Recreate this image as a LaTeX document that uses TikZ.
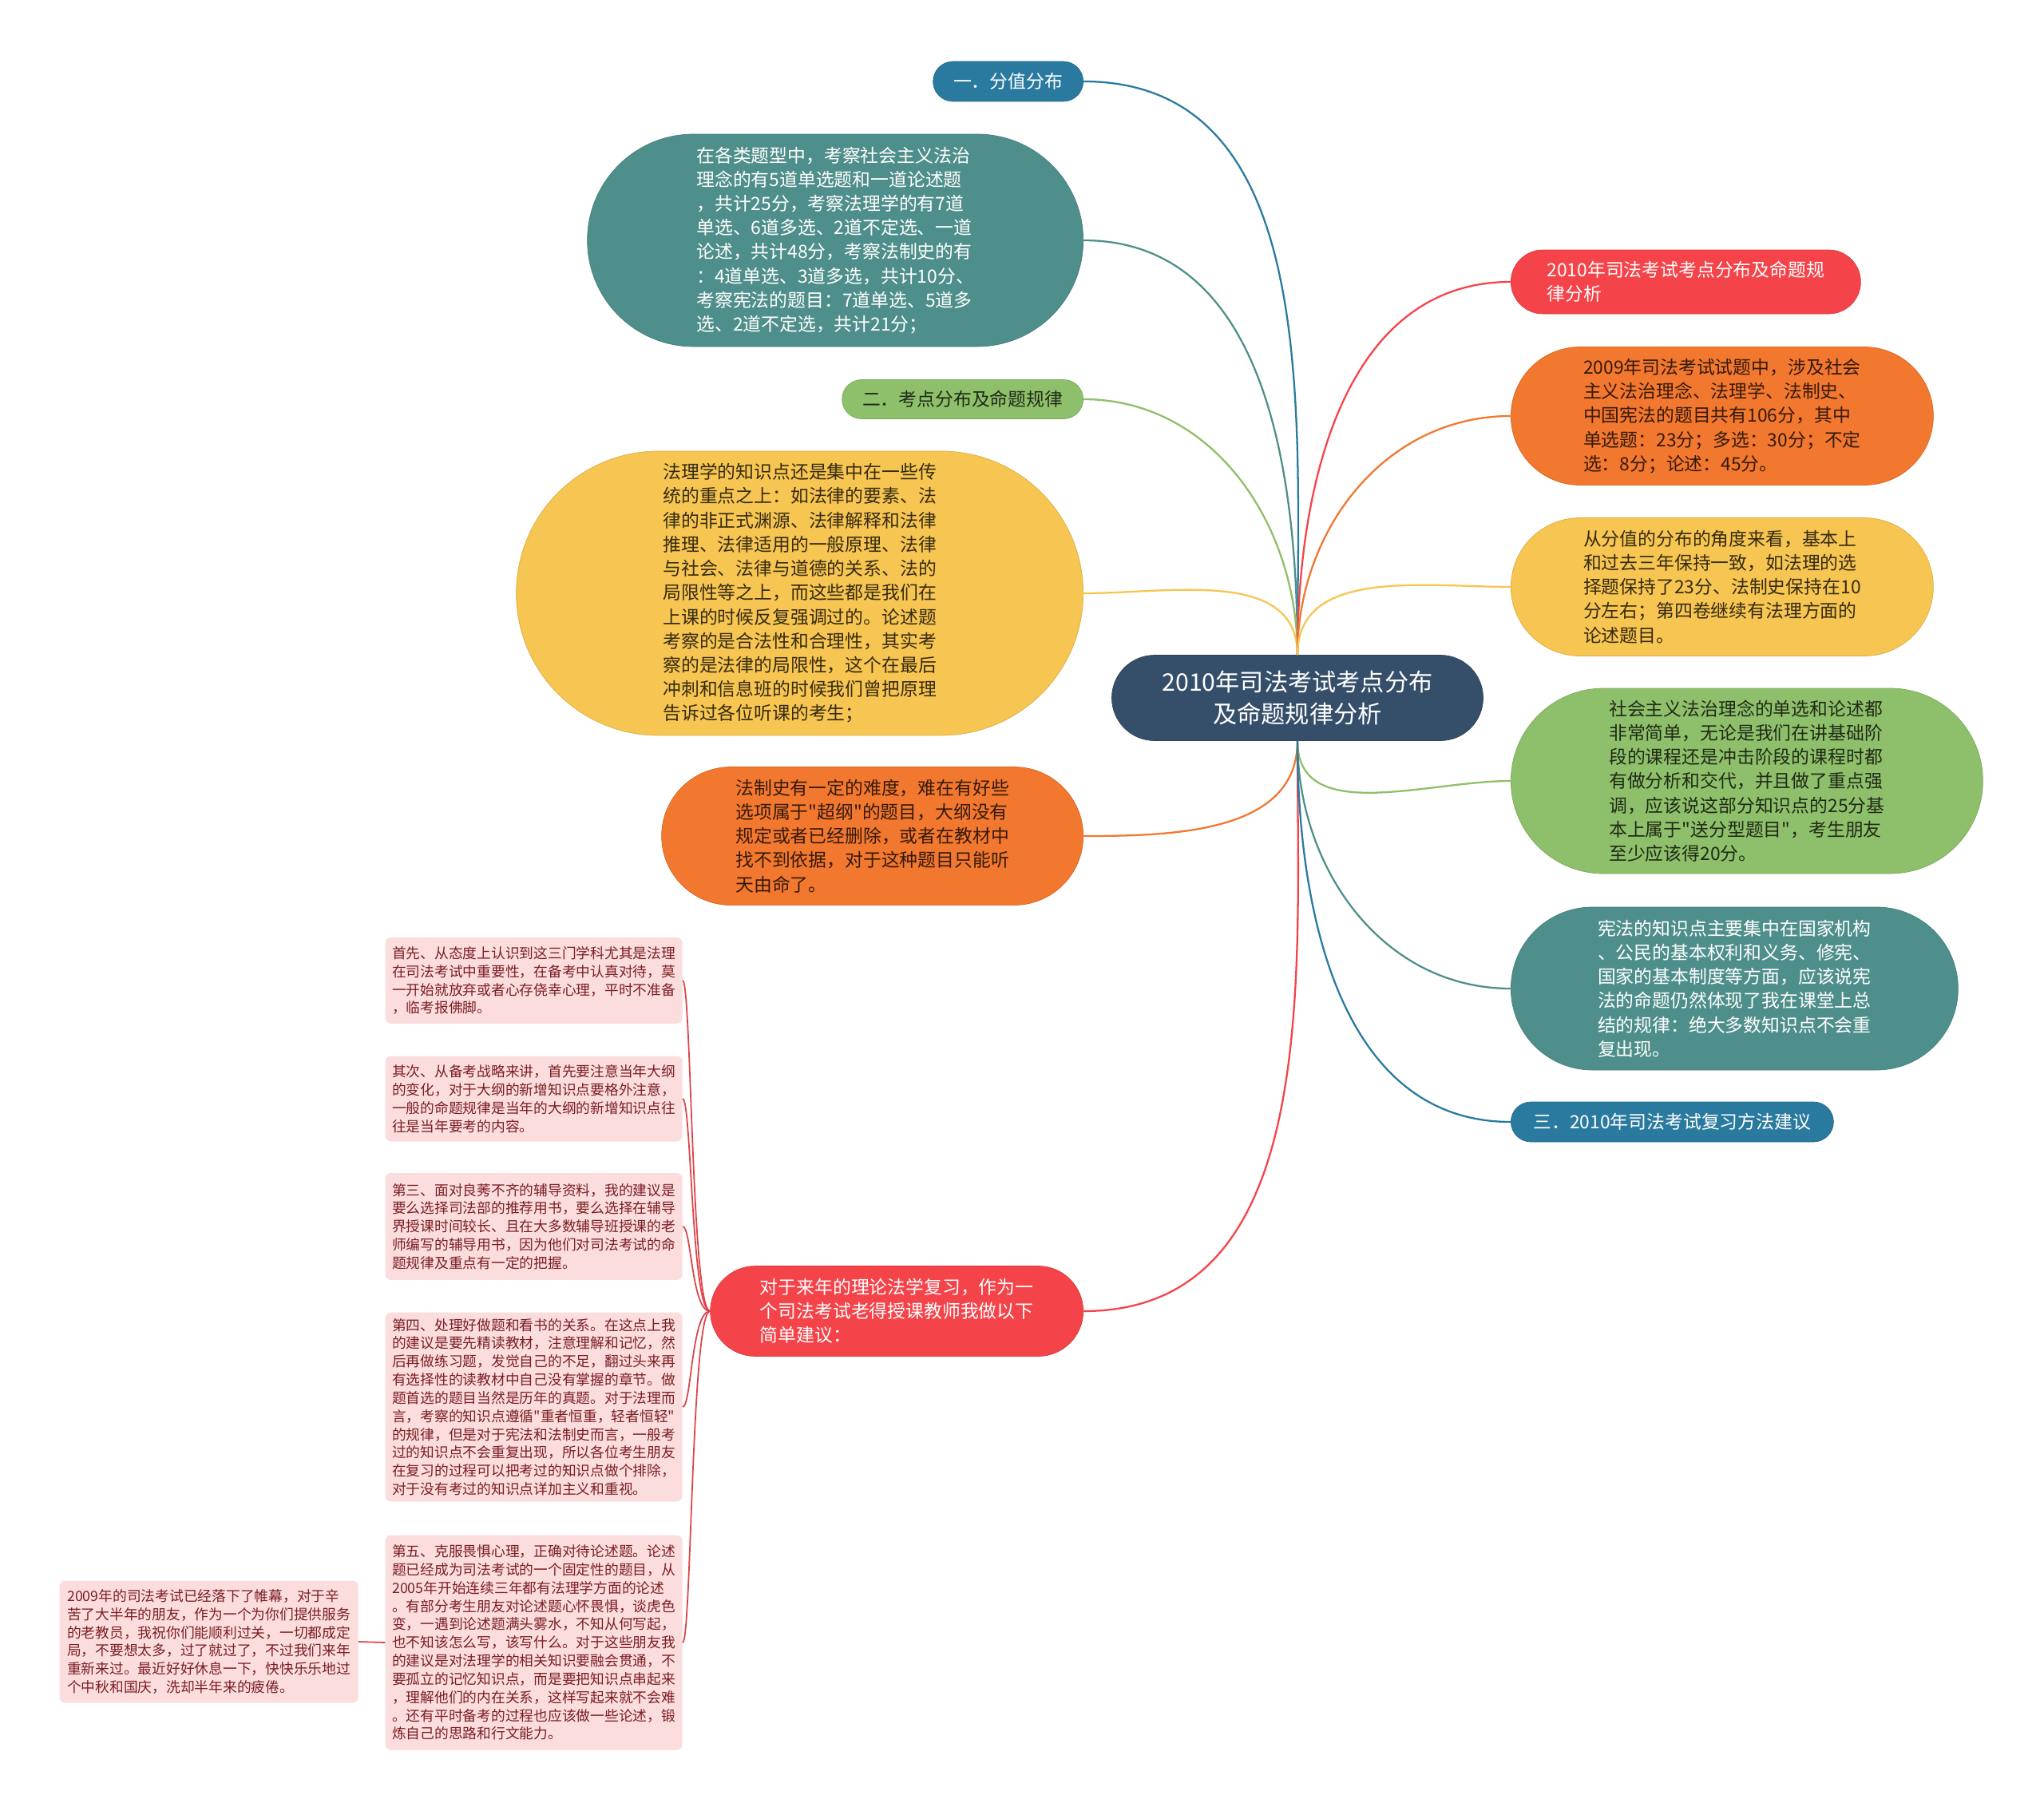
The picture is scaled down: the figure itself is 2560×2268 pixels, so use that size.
\documentclass[tikz,border=0pt]{standalone}
\usepackage{fontspec}
\setmainfont{Noto Sans CJK SC}[Ligatures=TeXOff]
\usetikzlibrary{shapes.misc}
\definecolor{rootblue}{RGB}{53,79,107}
\definecolor{mapblue}{RGB}{42,122,160}
\definecolor{mapteal}{RGB}{79,143,139}
\definecolor{mapgreen}{RGB}{142,191,106}
\definecolor{mapyellow}{RGB}{247,197,81}
\definecolor{maporange}{RGB}{242,119,47}
\definecolor{mapred}{RGB}{245,67,74}
\definecolor{notepink}{RGB}{252,221,222}
\definecolor{notetext}{RGB}{122,30,34}
\definecolor{noteline}{RGB}{222,66,72}

\begin{document}
\begin{tikzpicture}[
    x=0.02cm, y=-0.02cm,
    wh/.style 2 args={minimum width=#1*0.02cm,minimum height=#2*0.02cm},
    root/.style={rounded rectangle,fill=rootblue,draw=rootblue!85!black,line width=0.4pt,
      text=white,inner sep=0pt,font=\fontsize{17.2pt}{23.1pt}\selectfont,align=center},
    topic/.style={rounded rectangle,fill=#1,draw=#1!88!black,line width=0.4pt,inner sep=0pt,
      font=\fontsize{13pt}{17.2pt}\selectfont,align=left},
    light/.style={topic=#1,text=white},
    dark/.style={topic=#1,text=#1!22!black},
    note/.style={rectangle,rounded corners=4pt,fill=notepink,text=notetext,inner sep=0pt,
      font=\fontsize{10.1pt}{13pt}\selectfont,align=left},
    link/.style={line width=1.3pt,draw=#1},
    twig/.style={line width=1pt,draw=noteline}
  ]
    \useasboundingbox (0,0) rectangle (2560,2268);

    % centre
    \node[root,wh={465}{107}] (root) at (1625,874) {2010年司法考试考点分布\\及命题规律分析};

    % left side
    \node[light=mapblue,wh={188}{50},anchor=east] (fenzhi) at (1357,102) {一．分值分布};
    \node[light=mapteal,wh={621}{266},anchor=east] (fenzhiTxt) at (1357,301)
      {在各类题型中，考察社会主义法治\\理念的有5道单选题和一道论述题\\，共计25分，考察法理学的有7道\\单选、6道多选、2道不定选、一道\\论述，共计48分，考察法制史的有\\：4道单选、3道多选，共计10分、\\考察宪法的题目：7道单选、5道多\\选、2道不定选，共计21分；};
    \node[dark=mapgreen,wh={302}{49},anchor=east] (kaodian) at (1357,500) {二．考点分布及命题规律};
    \node[dark=mapyellow,wh={710}{356},anchor=east] (falixue) at (1357,743)
      {法理学的知识点还是集中在一些传\\统的重点之上：如法律的要素、法\\律的非正式渊源、法律解释和法律\\推理、法律适用的一般原理、法律\\与社会、法律与道德的关系、法的\\局限性等之上，而这些都是我们在\\上课的时候反复强调过的。论述题\\考察的是合法性和合理性，其实考\\察的是法律的局限性，这个在最后\\冲刺和信息班的时候我们曾把原理\\告诉过各位听课的考生；};
    \node[dark=maporange,wh={528}{173},anchor=east] (fazhishi) at (1357,1047)
      {法制史有一定的难度，难在有好些\\选项属于"超纲"的题目，大纲没有\\规定或者已经删除，或者在教材中\\找不到依据，对于这种题目只能听\\天由命了。};
    \node[light=mapred,wh={467}{113},anchor=east] (jianyi) at (1357,1642)
      {对于来年的理论法学复习，作为一\\个司法考试老得授课教师我做以下\\简单建议：};

    % right side
    \node[light=mapred,wh={438}{80},anchor=west] (title) at (1892,353)
      {2010年司法考试考点分布及命题规\\律分析};
    \node[dark=maporange,wh={529}{173},anchor=west] (fen09) at (1892,521)
      {2009年司法考试试题中，涉及社会\\主义法治理念、法理学、法制史、\\中国宪法的题目共有106分，其中\\单选题：23分；多选：30分；不定\\选：8分；论述：45分。};
    \node[dark=mapyellow,wh={529}{173},anchor=west] (jiaodu) at (1892,735)
      {从分值的分布的角度来看，基本上\\和过去三年保持一致，如法理的选\\择题保持了23分、法制史保持在10\\分左右；第四卷继续有法理方面的\\论述题目。};
    \node[dark=mapgreen,wh={591}{232},anchor=west] (linian) at (1892,978)
      {社会主义法治理念的单选和论述都\\非常简单，无论是我们在讲基础阶\\段的课程还是冲击阶段的课程时都\\有做分析和交代，并且做了重点强\\调，应该说这部分知识点的25分基\\本上属于"送分型题目"，考生朋友\\至少应该得20分。};
    \node[light=mapteal,wh={560}{204},anchor=west] (xianfa) at (1892,1238)
      {宪法的知识点主要集中在国家机构\\、公民的基本权利和义务、修宪、\\国家的基本制度等方面，应该说宪\\法的命题仍然体现了我在课堂上总\\结的规律：绝大多数知识点不会重\\复出现。};
    \node[light=mapblue,wh={404}{50},anchor=west] (fuxi) at (1892,1405) {三．2010年司法考试复习方法建议};

    % advice notes
    \node[note,wh={372}{108},anchor=east] (shouxian) at (855,1228)
      {首先、从态度上认识到这三门学科尤其是法理\\在司法考试中重要性，在备考中认真对待，莫\\一开始就放弃或者心存侥幸心理，平时不准备\\，临考报佛脚。};
    \node[note,wh={372}{107},anchor=east] (qici) at (855,1376)
      {其次、从备考战略来讲，首先要注意当年大纲\\的变化，对于大纲的新增知识点要格外注意，\\一般的命题规律是当年的大纲的新增知识点往\\往是当年要考的内容。};
    \node[note,wh={372}{134},anchor=east] (disan) at (855,1536)
      {第三、面对良莠不齐的辅导资料，我的建议是\\要么选择司法部的推荐用书，要么选择在辅导\\界授课时间较长、且在大多数辅导班授课的老\\师编写的辅导用书，因为他们对司法考试的命\\题规律及重点有一定的把握。};
    \node[note,wh={372}{237},anchor=east] (disi) at (855,1762)
      {第四、处理好做题和看书的关系。在这点上我\\的建议是要先精读教材，注意理解和记忆，然\\后再做练习题，发觉自己的不足，翻过头来再\\有选择性的读教材中自己没有掌握的章节。做\\题首选的题目当然是历年的真题。对于法理而\\言，考察的知识点遵循"重者恒重，轻者恒轻"\\的规律，但是对于宪法和法制史而言，一般考\\过的知识点不会重复出现，所以各位考生朋友\\在复习的过程可以把考过的知识点做个排除，\\对于没有考过的知识点详加主义和重视。};
    \node[note,wh={372}{269},anchor=east] (diwu) at (855,2057)
      {第五、克服畏惧心理，正确对待论述题。论述\\题已经成为司法考试的一个固定性的题目，从\\2005年开始连续三年都有法理学方面的论述\\。有部分考生朋友对论述题心怀畏惧，谈虎色\\变，一遇到论述题满头雾水，不知从何写起，\\也不知该怎么写，该写什么。对于这些朋友我\\的建议是对法理学的相关知识要融会贯通，不\\要孤立的记忆知识点，而是要把知识点串起来\\，理解他们的内在关系，这样写起来就不会难\\。还有平时备考的过程也应该做一些论述，锻\\炼自己的思路和行文能力。};
    \node[note,wh={374}{153},anchor=east] (zhufu) at (449,2056)
      {2009年的司法考试已经落下了帷幕，对于辛\\苦了大半年的朋友，作为一个为你们提供服务\\的老教员，我祝你们能顺利过关，一切都成定\\局，不要想太多，过了就过了，不过我们来年\\重新来过。最近好好休息一下，快快乐乐地过\\个中秋和国庆，洗却半年来的疲倦。};

    % branches from the centre
    \draw[link=mapblue] (root.north) to[out=90,in=0] (fenzhi.east);
    \draw[link=mapteal] (root.north) to[out=90,in=0] (fenzhiTxt.east);
    \draw[link=mapgreen] (root.north) to[out=90,in=0] (kaodian.east);
    \draw[link=mapyellow] (root.north) to[out=90,in=0] (falixue.east);
    \draw[link=maporange] (root.south) to[out=-90,in=0] (fazhishi.east);
    \draw[link=mapred] (root.south) to[out=-90,in=0] (jianyi.east);
    \draw[link=mapred] (root.north) to[out=90,in=180] (title.west);
    \draw[link=maporange] (root.north) to[out=90,in=180] (fen09.west);
    \draw[link=mapyellow] (root.north) to[out=90,in=180] (jiaodu.west);
    \draw[link=mapgreen] (root.south) to[out=-90,in=180] (linian.west);
    \draw[link=mapteal] (root.south) to[out=-90,in=180] (xianfa.west);
    \draw[link=mapblue] (root.south) to[out=-90,in=180] (fuxi.west);

    % bracket to the notes
    \coordinate (brk) at (866,1642);
    \draw[twig] (jianyi.west) .. controls (brk) and (brk |- shouxian.east) .. (shouxian.east);
    \draw[twig] (jianyi.west) .. controls (brk) and (brk |- qici.east) .. (qici.east);
    \draw[twig] (jianyi.west) .. controls (brk) and (brk |- disan.east) .. (disan.east);
    \draw[twig] (jianyi.west) .. controls (brk) and (brk |- disi.east) .. (disi.east);
    \draw[twig] (jianyi.west) .. controls (brk) and (brk |- diwu.east) .. (diwu.east);
    \draw[twig] (zhufu.east) -- (diwu.west);
  \end{tikzpicture}
\end{document}
